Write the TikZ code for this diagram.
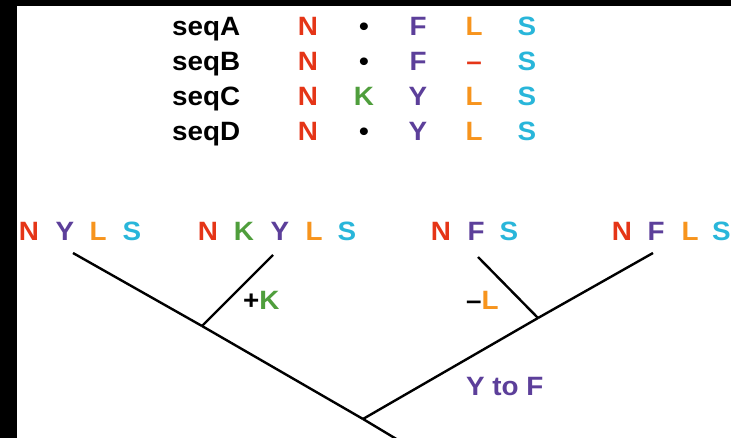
\documentclass[tikz,border=0pt]{standalone}
\usepackage{fontspec}
\setmainfont{Liberation Sans}[FakeStretch=1.05]
\definecolor{cN}{HTML}{E53517}
\definecolor{cK}{HTML}{4F9E3C}
\definecolor{cP}{HTML}{5C3F9A}
\definecolor{cL}{HTML}{F7941D}
\definecolor{cS}{HTML}{29B6DA}
\tikzset{
  lab/.style={inner sep=0pt, anchor=base, font=\fontsize{26.5}{26.5}\selectfont\bfseries},
  labw/.style={lab, anchor=base west},
  branch/.style={line width=2.4pt, black},
}
\begin{document}
\begin{tikzpicture}[x=1pt, y=-1pt]
\useasboundingbox (0,0) rectangle (731,438);
\clip (0,0) rectangle (731,438);
\fill[black] (0,0) rectangle (731,438);
\fill[white] (17,6) rectangle (731,438);
% table
\node[labw] (sA) at (172,36) {seqA};
\node[labw] (sB) at (172,71) {seqB};
\node[labw] (sC) at (172,106) {seqC};
\node[labw] (sD) at (172,141) {seqD};
\node[lab, text=cN] (a1) at (308,36) {N};
\node[lab] (a2) at (364,36) {•};
\node[lab, text=cP] (a3) at (418,36) {F};
\node[lab, text=cL] (a4) at (474,36) {L};
\node[lab, text=cS] (a5) at (527,36) {S};
\node[lab, text=cN] (b1) at (308,71) {N};
\node[lab] (b2) at (364,71) {•};
\node[lab, text=cP] (b3) at (418,71) {F};
\node[lab, text=cN] (b4) at (474,71) {–};
\node[lab, text=cS] (b5) at (527,71) {S};
\node[lab, text=cN] (c1) at (308,106) {N};
\node[lab, text=cK] (c2) at (364,106) {K};
\node[lab, text=cP] (c3) at (418,106) {Y};
\node[lab, text=cL] (c4) at (474,106) {L};
\node[lab, text=cS] (c5) at (527,106) {S};
\node[lab, text=cN] (d1) at (308,141) {N};
\node[lab] (d2) at (364,141) {•};
\node[lab, text=cP] (d3) at (418,141) {Y};
\node[lab, text=cL] (d4) at (474,141) {L};
\node[lab, text=cS] (d5) at (527,141) {S};
% leaves
\node[lab, text=cN] (p1) at (29,240.5) {N};
\node[lab, text=cP] (p2) at (65,240.5) {Y};
\node[lab, text=cL] (p3) at (98,240.5) {L};
\node[lab, text=cS] (p4) at (132,240.5) {S};
\node[lab, text=cN] (q1) at (208,240.5) {N};
\node[lab, text=cK] (q2) at (244,240.5) {K};
\node[lab, text=cP] (q3) at (280,240.5) {Y};
\node[lab, text=cL] (q4) at (314,240.5) {L};
\node[lab, text=cS] (q5) at (347,240.5) {S};
\node[lab, text=cN] (r1) at (441,240.5) {N};
\node[lab, text=cP] (r2) at (476,240.5) {F};
\node[lab, text=cS] (r3) at (509,240.5) {S};
\node[lab, text=cN] (t1) at (622,240.5) {N};
\node[lab, text=cP] (t2) at (656,240.5) {F};
\node[lab, text=cL] (t3) at (690,240.5) {L};
\node[lab, text=cS] (t4) at (721.5,240.5) {S};
% branch labels
\node[labw] (mK) at (243,310) {+\textcolor{cK}{K}};
\node[labw] (mL) at (466,310) {–\textcolor{cL}{L}};
\node[labw, text=cP] (mYF) at (466,395) {Y to F};
% tree
\coordinate (e1) at (73,253);
\coordinate (e2) at (273,255);
\coordinate (e3) at (478,257);
\coordinate (e4) at (653,253);
\coordinate (j1) at (202,326);
\coordinate (j2) at (538,318);
\coordinate (root) at (363,419);
\coordinate (stem) at (403,443);
\draw[branch] (e1) -- (j1);
\draw[branch] (e2) -- (j1);
\draw[branch] (j1) -- (root);
\draw[branch] (e3) -- (j2);
\draw[branch] (e4) -- (j2);
\draw[branch] (j2) -- (root);
\draw[branch] (root) -- (stem);
\end{tikzpicture}
\end{document}
